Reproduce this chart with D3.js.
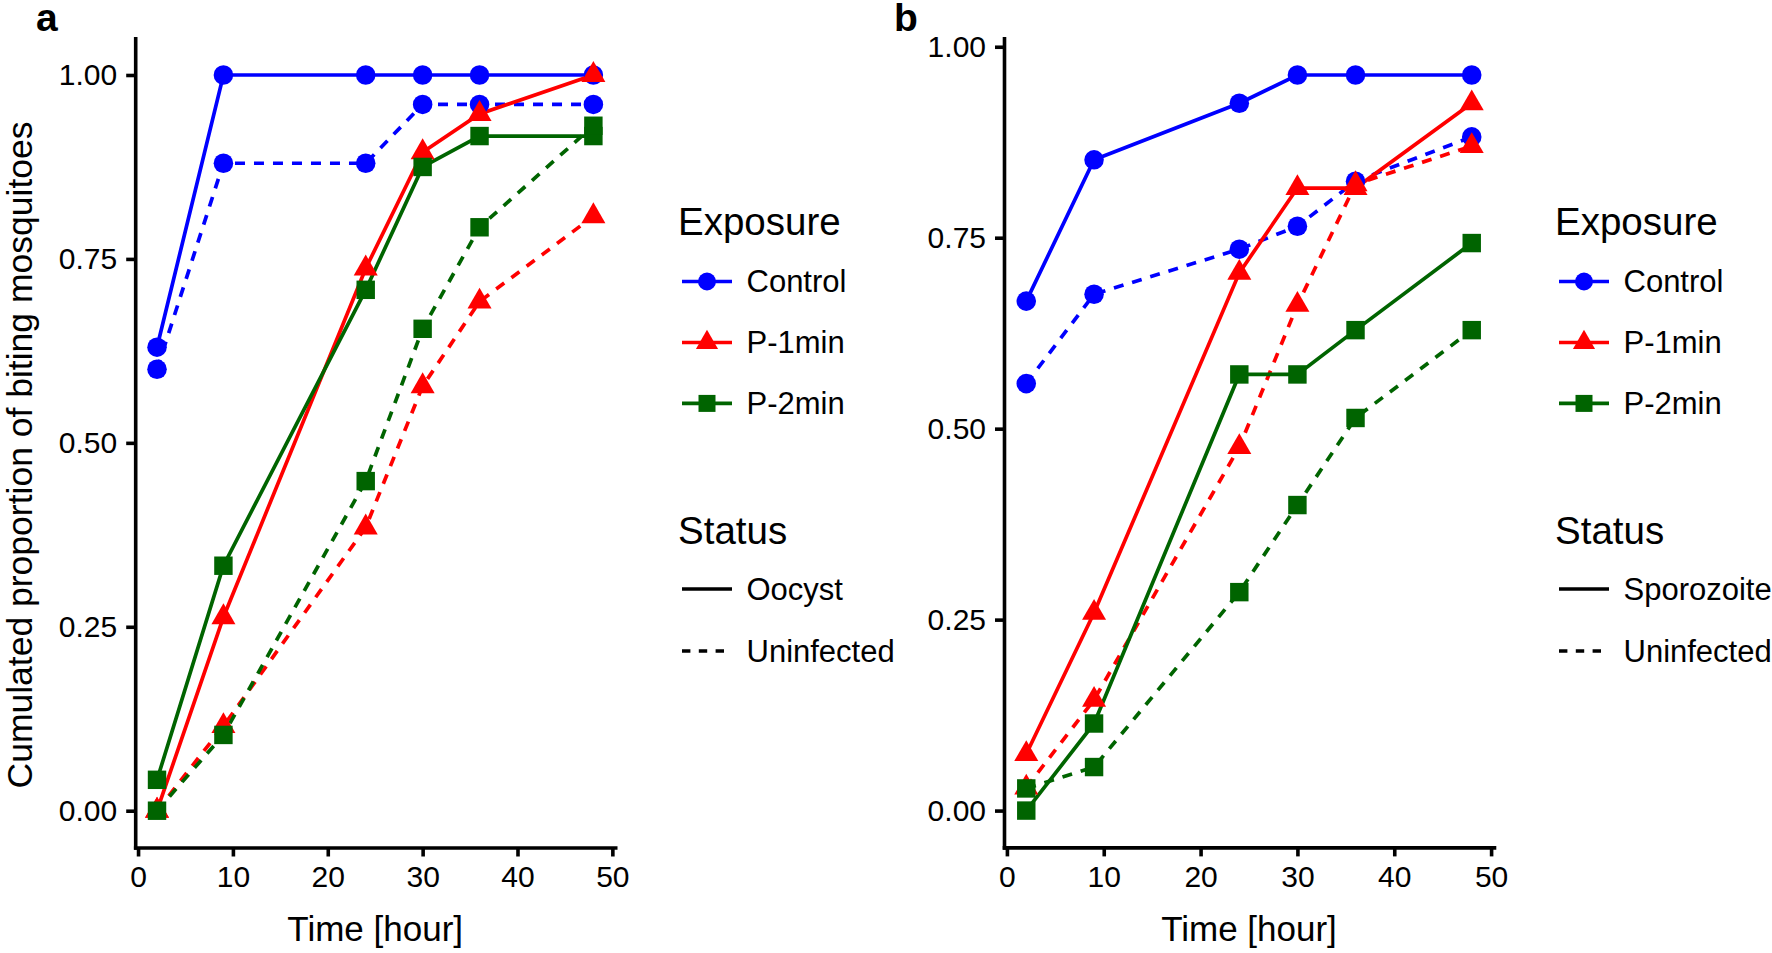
<!DOCTYPE html>
<html>
<head>
<meta charset="utf-8">
<script src="https://cdn.jsdelivr.net/npm/d3@7"></script>
<style>
  html, body { margin: 0; padding: 0; background: #fff; }
  svg { display: block; font-family: "Liberation Sans", Arial, Helvetica, sans-serif; }
</style>
</head>
<body>
<script>
// ---------------- DATA ----------------
const times = [2, 9, 24, 30, 36, 48];
const exposures = ["Control", "P-1min", "P-2min"];
const xTicks = [0, 10, 20, 30, 40, 50];
const yTicks = [0, 0.25, 0.5, 0.75, 1];

// Panel a (Oocyst vs Uninfected)
const aControlOocyst      = [0.630, 1.000, 1.000, 1.000, 1.000, 1.000];
const aControlUninfected  = [0.600, 0.880, 0.880, 0.960, 0.960, 0.960];
const aP1Oocyst           = [0.000, 0.263, 0.737, 0.895, 0.947, 1.000];
const aP1Uninfected       = [0.000, 0.115, 0.385, 0.577, 0.692, 0.808];
const aP2Oocyst           = [0.042, 0.333, 0.708, 0.875, 0.917, 0.917];
const aP2Uninfected       = [0.000, 0.103, 0.448, 0.655, 0.793, 0.931];

// Panel b (Sporozoite vs Uninfected)
const bControlSporozoite  = [0.667, 0.852, 0.926, 0.963, 0.963, 0.963];
const bControlUninfected  = [0.559, 0.676, 0.735, 0.765, 0.824, 0.882];
const bP1Sporozoite       = [0.074, 0.259, 0.704, 0.815, 0.815, 0.926];
const bP1Uninfected       = [0.030, 0.145, 0.476, 0.662, 0.820, 0.870];
const bP2Sporozoite       = [0.000, 0.114, 0.571, 0.571, 0.629, 0.743];
const bP2Uninfected       = [0.029, 0.057, 0.286, 0.400, 0.514, 0.629];

const exposureTitle = "Exposure";
const statusTitle = "Status";
const xTitle = "Time [hour]";
const yTitle = "Cumulated proportion of biting mosquitoes";

// ---------------- STYLE ----------------
const colorOf = { "Control": "#0000ff", "P-1min": "#ff0000", "P-2min": "#006400" };
const symbolOf = { "Control": d3.symbolCircle, "P-1min": d3.symbolTriangle, "P-2min": d3.symbolSquare };
const symbolSize = { "Control": 300, "P-1min": 250, "P-2min": 340 };
const dashOf = { solid: null, dashed: "10,9" };
const LW = 3.7;
const AXW = 3.6;

const W = 1772, H = 953;
const svg = d3.select("body").append("svg").attr("width", W).attr("height", H);
svg.append("rect").attr("width", W).attr("height", H).attr("fill", "#fff");

function buildSeries(list) {
  return list.map(([exposure, status, vals]) => ({
    exposure, status,
    points: times.map((t, i) => ({ t, v: vals[i] }))
  }));
}

const panels = [
  {
    label: "a", labelX: 36,
    left: 135.2, right: 615.2, top: 38.2, bottom: 847.5,
    xDom: [-0.3, 50.3], yDom: [-0.05, 1.05],
    yTitle: true, legendX: 678, statusLabel: "Oocyst",
    series: buildSeries([
      ["Control", "solid", aControlOocyst],
      ["Control", "dashed", aControlUninfected],
      ["P-1min", "solid", aP1Oocyst],
      ["P-1min", "dashed", aP1Uninfected],
      ["P-2min", "solid", aP2Oocyst],
      ["P-2min", "dashed", aP2Uninfected]
    ])
  },
  {
    label: "b", labelX: 894,
    left: 1004, right: 1494, top: 38.2, bottom: 847.4,
    xDom: [-0.3, 50.3], yDom: [-0.0482, 1.0112],
    yTitle: false, legendX: 1555, statusLabel: "Sporozoite",
    series: buildSeries([
      ["Control", "solid", bControlSporozoite],
      ["Control", "dashed", bControlUninfected],
      ["P-1min", "solid", bP1Sporozoite],
      ["P-1min", "dashed", bP1Uninfected],
      ["P-2min", "solid", bP2Sporozoite],
      ["P-2min", "dashed", bP2Uninfected]
    ])
  }
];

panels.forEach(p => {
  const x = d3.scaleLinear().domain(p.xDom).range([p.left, p.right]);
  const y = d3.scaleLinear().domain(p.yDom).range([p.bottom, p.top]);
  const g = svg.append("g");

  // lines
  const line = d3.line().x(d => x(d.t)).y(d => y(d.v));
  g.append("g").selectAll("path").data(p.series).join("path")
    .attr("d", s => line(s.points))
    .attr("fill", "none")
    .attr("stroke", s => colorOf[s.exposure])
    .attr("stroke-width", LW)
    .attr("stroke-dasharray", s => dashOf[s.status]);

  // points
  p.series.forEach(s => {
    const sym = d3.symbol().type(symbolOf[s.exposure]).size(symbolSize[s.exposure]);
    g.append("g").selectAll("path").data(s.points).join("path")
      .attr("transform", d => `translate(${x(d.t)},${y(d.v)})`)
      .attr("d", sym)
      .attr("fill", colorOf[s.exposure]);
  });

  // axes
  const yAxis = d3.axisLeft(y).tickValues(yTicks).tickFormat(d3.format(".2f"))
    .tickSize(9).tickSizeOuter(0).tickPadding(9);
  const xAxis = d3.axisBottom(x).tickValues(xTicks).tickFormat(d3.format("d"))
    .tickSize(9).tickSizeOuter(0).tickPadding(9);

  const ya = g.append("g").attr("transform", `translate(${p.left},0)`).call(yAxis);
  const xa = g.append("g").attr("transform", `translate(0,${p.bottom})`).call(xAxis);
  [ya, xa].forEach(a => {
    a.select(".domain").attr("stroke", "#000").attr("stroke-width", AXW).attr("stroke-linecap", "square");
    a.selectAll(".tick line").attr("stroke", "#000").attr("stroke-width", AXW);
    a.selectAll(".tick text").attr("fill", "#000").attr("font-size", 30)
      .attr("font-family", "Liberation Sans, Arial, sans-serif");
  });

  // axis titles
  g.append("text")
    .attr("x", (p.left + p.right) / 2).attr("y", 941)
    .attr("text-anchor", "middle").attr("font-size", 35).attr("fill", "#000")
    .text(xTitle);
  if (p.yTitle) {
    g.append("text")
      .attr("transform", `translate(32,455) rotate(-90)`)
      .attr("text-anchor", "middle").attr("font-size", 35.5).attr("fill", "#000")
      .text(yTitle);
  }

  // panel tag
  g.append("text").attr("x", p.labelX).attr("y", 31)
    .attr("font-size", 39).attr("font-weight", "bold").attr("fill", "#000")
    .text(p.label);

  // legend
  const lg = g.append("g");
  const lx = p.legendX, keyX0 = lx + 4, keyX1 = lx + 54, textX = lx + 68.5;
  lg.append("text").attr("x", lx).attr("y", 235).attr("font-size", 38.5).attr("fill", "#000").text(exposureTitle);
  const rowsE = [281.5, 342.5, 403.4];
  exposures.forEach((e, i) => {
    const ry = rowsE[i];
    lg.append("line").attr("x1", keyX0).attr("x2", keyX1).attr("y1", ry).attr("y2", ry)
      .attr("stroke", colorOf[e]).attr("stroke-width", LW);
    lg.append("path").attr("transform", `translate(${(keyX0 + keyX1) / 2},${ry})`)
      .attr("d", d3.symbol().type(symbolOf[e]).size(symbolSize[e] * 0.85)())
      .attr("fill", colorOf[e]);
    lg.append("text").attr("x", textX).attr("y", ry).attr("dy", "0.35em")
      .attr("font-size", 31).attr("fill", "#000").text(e);
  });
  lg.append("text").attr("x", lx).attr("y", 543.5).attr("font-size", 38.5).attr("fill", "#000").text(statusTitle);
  const statusItems = [[p.statusLabel, "solid", 589], ["Uninfected", "dashed", 651]];
  statusItems.forEach(([lab, st, ry]) => {
    lg.append("line").attr("x1", keyX0).attr("x2", keyX1).attr("y1", ry).attr("y2", ry)
      .attr("stroke", "#000").attr("stroke-width", LW)
      .attr("stroke-dasharray", st === "dashed" ? "8.4,8.4" : null);
    lg.append("text").attr("x", textX).attr("y", ry).attr("dy", "0.35em")
      .attr("font-size", 31).attr("fill", "#000").text(lab);
  });
});
</script>
</body>
</html>
